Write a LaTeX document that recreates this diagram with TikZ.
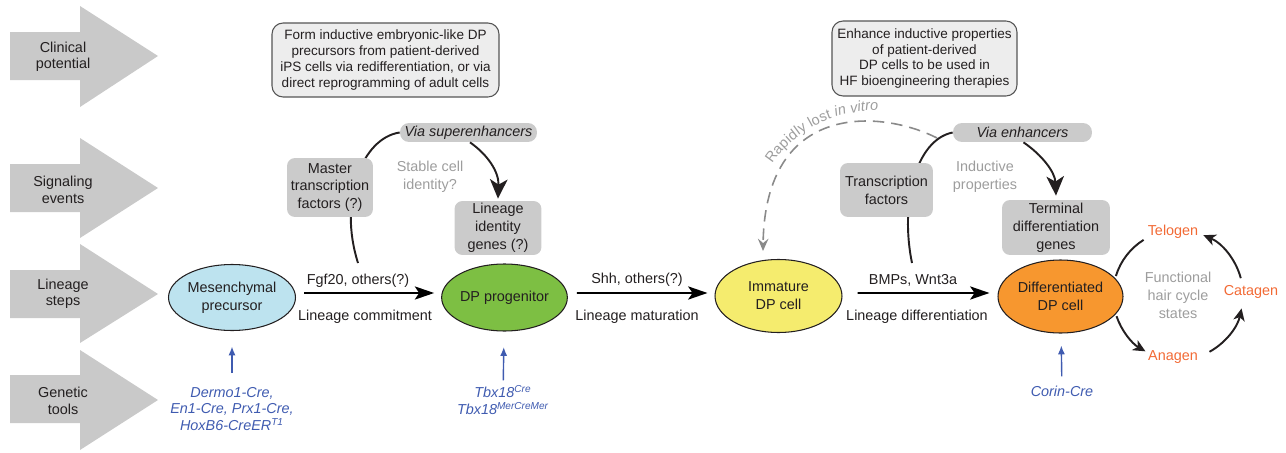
\documentclass[tikz,border=0pt]{standalone}
\usepackage{fontspec}
\setmainfont{Liberation Sans}
\usetikzlibrary{arrows.meta,shapes.geometric,decorations.text,backgrounds}
\definecolor{txt}{HTML}{231F20}
\definecolor{leftgray}{HTML}{C9C9C9}
\definecolor{topfill}{HTML}{EDEDED}
\definecolor{topline}{HTML}{555555}
\definecolor{sigfill}{HTML}{CBCBCB}
\definecolor{graytxt}{HTML}{9D9D9D}
\definecolor{dashgray}{HTML}{8A8A8A}
\definecolor{bluet}{HTML}{3F5BB0}
\definecolor{orangetxt}{HTML}{F26A35}
\definecolor{mesfill}{HTML}{BDE3EF}
\definecolor{dpfill}{HTML}{7DBF43}
\definecolor{immfill}{HTML}{F5EC6E}
\definecolor{diffill}{HTML}{F7972F}
\begin{document}
\begin{tikzpicture}[x=0.02cm,y=-0.02cm,
  every node/.style={text=txt, inner sep=0pt},
  lbl/.style={font=\fontsize{8.2}{9.3}\selectfont, align=center},
  lbl2/.style={font=\fontsize{8.2}{10.2}\selectfont, align=center},
  topbox/.style={font=\fontsize{7.7}{9.1}\selectfont, align=center, draw=topline, fill=topfill, line width=0.6pt, rounded corners=0.22cm},
  sigbox/.style={lbl2, fill=sigfill, rounded corners=0.16cm},
  viabox/.style={font=\fontsize{8.2}{9.3}\selectfont\itshape, fill=sigfill, rounded corners=0.18cm, minimum height=0.38cm},
  cell/.style={lbl2, ellipse, draw=txt, line width=0.6pt},
  graylbl/.style={lbl2, text=graytxt},
  gentxt/.style={lbl, text=bluet, font=\fontsize{8.2}{9.3}\selectfont\itshape},
  phase/.style={lbl, text=orangetxt},
  stepar/.style={draw=black, line width=1.1pt, -{Stealth[length=11pt,width=7.5pt,inset=2.5pt]}},
  sigline/.style={draw=txt, line width=1.1pt},
  sigar/.style={sigline, -{Stealth[length=11pt,width=10pt,inset=3pt]}},
  dashar/.style={draw=dashgray, line width=0.9pt, dash pattern=on 6.5pt off 4pt, -{Stealth[length=7pt,width=6pt,inset=2.5pt]}},
  bluear/.style={draw=bluet, line width=0.8pt, -{Latex[length=5pt,width=4pt]}},
  cyc/.style={draw=txt, line width=1.1pt},
  cycar/.style={cyc, -{Stealth[length=7pt,width=6.5pt,inset=2pt]}}
]
\useasboundingbox (0,0) rectangle (1286,453);

% left row arrows
\fill[leftgray] (10,32) -- (80,32) -- (80,6) -- (158,56) -- (80,107) -- (80,80) -- (10,80) -- cycle;
\fill[leftgray] (10,164) -- (80,164) -- (80,138) -- (158,188) -- (80,238) -- (80,212) -- (10,212) -- cycle;
\fill[leftgray] (10,270) -- (80,270) -- (80,244) -- (158,294) -- (80,343) -- (80,318) -- (10,318) -- cycle;
\fill[leftgray] (10,375) -- (80,375) -- (80,350) -- (158,400) -- (80,450) -- (80,423) -- (10,423) -- cycle;
\node[lbl] (lc) at (63,57) {Clinical\\potential};
\node[lbl] (ls) at (63,190) {Signaling\\events};
\node[lbl] (ll) at (63,294) {Lineage\\steps};
\node[lbl] (lg) at (63,401) {Genetic\\tools};

% clinical potential boxes
\node[topbox, minimum width=4.54cm, minimum height=1.48cm] (top1) at (385.5,60)
  {Form inductive embryonic-like DP\\precursors from patient-derived\\iPS cells via redifferentiation, or via\\direct reprogramming of adult cells};
\node[topbox, minimum width=3.7cm, minimum height=1.5cm] (top2) at (924.5,58.5)
  {Enhance inductive properties\\of patient-derived\\DP cells to be used in\\HF bioengineering therapies};

% signaling boxes
\node[viabox, minimum width=2.74cm] (via1) at (468.5,132.5) {Via superenhancers};
\node[sigbox, minimum width=1.72cm, minimum height=1.18cm] (mtf) at (330,187.5) {Master\\transcription\\factors (?)};
\node[sigbox, minimum width=1.74cm, minimum height=1.08cm] (lig) at (498,228) {Lineage\\identity\\genes (?)};
\node[graylbl] (stable) at (430,177) {Stable cell\\identity?};
\node[viabox, minimum width=2.78cm] (via2) at (1022.5,132.5) {Via enhancers};
\node[sigbox, minimum width=1.86cm, minimum height=1.08cm] (tf) at (886.5,190) {Transcription\\factors};
\node[sigbox, minimum width=2.16cm, minimum height=1.1cm] (tdg) at (1056,227.5) {Terminal\\differentiation\\genes};
\node[graylbl] (ind) at (985,177) {Inductive\\properties};

% cells
\node[cell, fill=mesfill, minimum width=2.54cm, minimum height=1.32cm] (mes) at (232,297.5) {Mesenchymal\\precursor};
\node[cell, fill=dpfill, minimum width=2.5cm, minimum height=1.34cm] (dp) at (504.5,297.5) {DP progenitor};
\node[cell, fill=immfill, minimum width=2.54cm, minimum height=1.46cm] (imm) at (778.5,296) {Immature\\DP cell};
\node[cell, fill=diffill, minimum width=2.5cm, minimum height=1.46cm] (dif) at (1060.5,296.5) {Differentiated\\DP cell};

% lineage arrows and labels
\draw[stepar, shorten <=0.16cm, shorten >=0.14cm] ([yshift=0.09cm]mes.east) -- ([yshift=0.09cm]dp.west);
\draw[stepar, shorten <=0.18cm, shorten >=0.14cm] ([yshift=0.09cm]dp.east) -- ([yshift=0.06cm]imm.west);
\draw[stepar, shorten <=0.3cm, shorten >=0.16cm] ([yshift=0.06cm]imm.east) -- ([yshift=0.07cm]dif.west);
\node[lbl] (l1a) at (358,281) {Fgf20, others(?)};
\node[lbl] (l1b) at (365,317) {Lineage commitment};
\node[lbl] (l2a) at (637,280) {Shh, others(?)};
\node[lbl] (l2b) at (637,317) {Lineage maturation};
\node[lbl] (l3a) at (913,280) {BMPs, Wnt3a};
\node[lbl] (l3b) at (917,317) {Lineage differentiation};

% signaling curves
\coordinate (c1) at (358,263);
\coordinate (c2) at (912,263);
\begin{pgfonlayer}{background}
\draw[sigline] (c1) .. controls (338,200) and (362,138) .. (via1.west);
\draw[sigline] (c2) .. controls (900,205) and (915,140) .. (via2.west);
\end{pgfonlayer}
\draw[sigar] ([xshift=0.03cm]via1.south) .. controls (488,155) and (499,172) .. ([yshift=0.04cm]lig.north);
\draw[sigar] ([xshift=0.02cm]via2.south) .. controls (1042,155) and (1055,172) .. ([yshift=0.08cm]tdg.north);

% rapidly lost in vitro
\coordinate (d0) at (937,138);
\coordinate (d1) at (763,251);
\draw[dashar] (d0) .. controls (882,110) and (765,100) .. (d1);
\path[decorate, decoration={text along path, text align=left, raise=2pt,
  text={|\fontsize{8.2}{9}\selectfont\color{graytxt}|Rapidly lost |\fontsize{8.2}{9}\selectfont\itshape\color{graytxt}|in vitro}}]
  (775,166) .. controls (800,128) and (850,106) .. (910,116);

% genetic tools
\node[gentxt] (gt1) at (232,409) {Dermo1-Cre,\\En1-Cre, Prx1-Cre,\\HoxB6-CreER\textsuperscript{T1}};
\node[gentxt] (gt2) at (503,400) {Tbx18\textsuperscript{Cre}\\Tbx18\textsuperscript{MerCreMer}};
\node[gentxt] (gt3) at (1062,391) {Corin-Cre};
\draw[bluear, shorten <=0.28cm, shorten >=0.31cm] (gt1) -- (mes);
\draw[bluear, shorten <=0.1cm, shorten >=0.31cm] (gt2) -- (dp);
\draw[bluear, shorten <=0.18cm, shorten >=0.24cm] (gt3) -- (dif);

% hair cycle
\node[phase] (tel) at (1173,232) {Telogen};
\node[phase] (cat) at (1251,292) {Catagen};
\node[phase] (ana) at (1173,357) {Anagen};
\node[graylbl] (fhc) at (1178,295) {Functional\\hair cycle\\states};
\begin{pgfonlayer}{background}
\draw[cyc] (1143.6,239.9) arc[start angle=-122, end angle=-163, radius=65];
\end{pgfonlayer}
\draw[cycar] (1116.5,316.2) arc[start angle=161, end angle=120, radius=65];
\draw[cycar] (1209.5,351.8) arc[start angle=61, end angle=12, radius=65];
\draw[cycar] (1240.8,278.2) arc[start angle=-15, end angle=-67, radius=65];
\end{tikzpicture}
\end{document}
